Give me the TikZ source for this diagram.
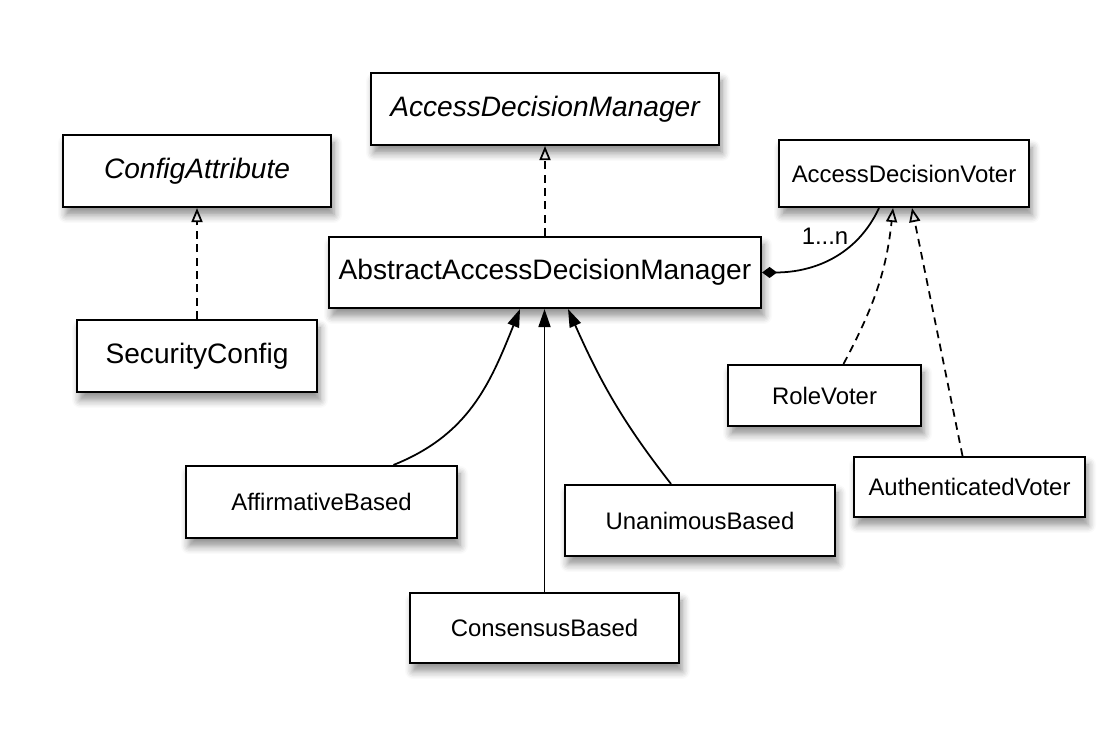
\documentclass[tikz,border=0pt]{standalone}
\usepackage{fontspec}
\setmainfont{Liberation Sans}
\usetikzlibrary{arrows.meta,shadows.blur}

\begin{document}
\begin{tikzpicture}[>=Latex,
  cls/.style={draw, line width=0.6pt, fill=white, inner sep=0pt,
    font=\fontsize{8}{9.6}\selectfont,
    blur shadow={shadow xshift=0.3mm, shadow yshift=-0.8mm, shadow blur radius=0.8mm,
      shadow opacity=45, shadow blur steps=6}},
  iface/.style={cls, font=\fontsize{8}{9.6}\selectfont\itshape},
  small/.style={cls, font=\fontsize{6.8}{8.2}\selectfont},
  realize/.style={line width=0.5pt, dash pattern=on 2.2pt off 1.6pt,
    -{Triangle[open,length=1.4mm,width=1.1mm]}},
  inherit/.style={line width=0.5pt, -{Triangle[length=1.8mm,width=1.2mm]}},
  aggr/.style={line width=0.5pt, {Diamond[length=1.5mm,width=1.1mm]}-}]
\useasboundingbox (0,0) rectangle (10.98,7.40);
% interfaces
\node[iface, minimum width=3.48cm, minimum height=0.72cm] (adm) at (5.45,6.31) {AccessDecisionManager};
\node[iface, minimum width=2.68cm, minimum height=0.72cm] (cfg) at (1.97,5.69) {ConfigAttribute};
\node[small, minimum width=2.50cm, minimum height=0.67cm] (voter) at (9.04,5.665) {AccessDecisionVoter};
% classes
\node[cls, minimum width=4.32cm, minimum height=0.71cm] (abs) at (5.45,4.675) {AbstractAccessDecisionManager};
\node[cls, minimum width=2.40cm, minimum height=0.72cm] (sec) at (1.97,3.84) {SecurityConfig};
\node[small, minimum width=1.93cm, minimum height=0.61cm] (role) at (8.245,3.445) {RoleVoter};
\node[small, minimum width=2.31cm, minimum height=0.60cm] (auth) at (9.695,2.53) {AuthenticatedVoter};
\node[small, minimum width=2.71cm, minimum height=0.72cm] (aff) at (3.215,2.38) {AffirmativeBased};
\node[small, minimum width=2.70cm, minimum height=0.71cm] (una) at (7.00,2.195) {UnanimousBased};
\node[small, minimum width=2.69cm, minimum height=0.70cm] (cons) at (5.445,1.12) {ConsensusBased};
% realizations
\draw [realize] (abs.north) -- (adm.south);
\draw [realize] (sec.north) -- (cfg.south);
\draw [realize] ([xshift=1.9mm]role.north) to[out=62,in=-96] ([xshift=-1.1mm]voter.south);
\draw [realize] ([xshift=-0.7mm]auth.north) -- ([xshift=0.8mm]voter.south);
% subclasses
\draw [inherit] ([xshift=7.2mm]aff.north) .. controls +(0.75,0.3) and +(-0.3,-0.75) .. ([xshift=-2.5mm]abs.south);
\draw [inherit] (cons.north) -- (cons.north |- abs.south);
\draw [inherit] ([xshift=-2.9mm]una.north) to[out=128,in=-66] ([xshift=2.3mm]abs.south);
% voters
\draw [aggr] (abs.east) to[out=0,in=-115] ([xshift=-2.5mm]voter.south);
\node[font=\fontsize{6.8}{8.2}\selectfont] (mult) at (8.25,5.04) {1...n};
\end{tikzpicture}
\end{document}
